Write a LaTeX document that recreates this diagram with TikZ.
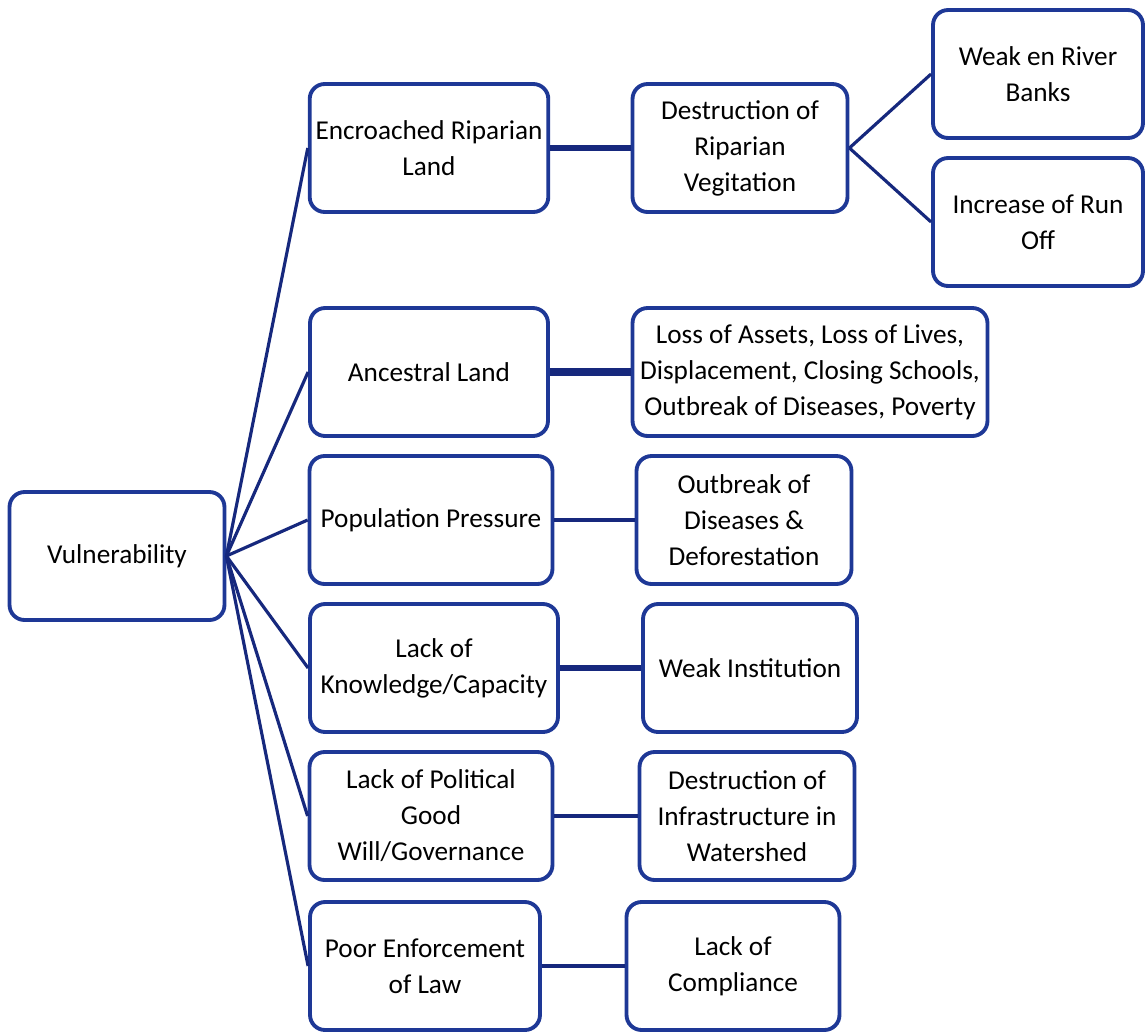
\documentclass[tikz,border=0pt]{standalone}
\usepackage{fontspec}
\setmainfont{Carlito}
\usetikzlibrary{positioning}
\definecolor{boxblue}{RGB}{30,56,150}
\definecolor{lineblue}{RGB}{22,40,125}

\begin{document}
\begin{tikzpicture}[
  x=0.02cm,
  y=-0.02cm,
  box/.style={
    draw=boxblue,
    line width=2.2pt,
    rounded corners=3mm,
    fill=white,
    minimum height=2.56cm,
    align=center,
    font=\fontsize{15.5}{20.5}\selectfont
  },
  link/.style={draw=lineblue, line width=1.8pt},
  heavylink/.style={draw=lineblue, line width=3.6pt}
]
\useasboundingbox (0,0) rectangle (1147,1032);

% Root
\node[box, minimum width=4.3cm] (vuln) at (117,556) {Vulnerability};

% Causes
\node[box, minimum width=4.76cm] (encroach) at (429,148) {Encroached Riparian\\Land};
\node[box, minimum width=4.76cm] (ancestral) at (429,372) {Ancestral Land};
\node[box, minimum width=4.86cm] (population) at (431,520) {Population Pressure};
\node[box, minimum width=4.96cm] (knowledge) at (434,668) {Lack of\\Knowledge/Capacity};
\node[box, minimum width=4.86cm] (political) at (431,816) {Lack of Political\\Good\\Will/Governance};
\node[box, minimum width=4.6cm] (enforce) at (425,966) {Poor Enforcement\\of Law};

% Effects
\node[box, minimum width=4.3cm] (vegetation) at (740,148) {Destruction of\\Riparian\\Vegitation};
\node[box, minimum width=7.1cm] (losses) at (810,372) {Loss of Assets, Loss of Lives,\\Displacement, Closing Schools,\\Outbreak of Diseases, Poverty};
\node[box, minimum width=4.3cm] (diseases) at (744,520) {Outbreak of\\Diseases \&\\Deforestation};
\node[box, minimum width=4.28cm] (institution) at (750,668) {Weak Institution};
\node[box, minimum width=4.3cm] (infra) at (747,816) {Destruction of\\Infrastructure in\\Watershed};
\node[box, minimum width=4.26cm] (compliance) at (733,966) {Lack of\\Compliance};

% Further effects
\node[box, minimum width=4.2cm] (banks) at (1038,74) {Weak en River\\Banks};
\node[box, minimum width=4.2cm] (runoff) at (1038,222) {Increase of Run\\Off};

% Connectors from root
\foreach \n in {encroach, ancestral, population, knowledge, political, enforce}
  \draw[link] (vuln.east) -- (\n.west);

% Horizontal connectors
\draw[heavylink] (encroach) -- (vegetation);
\draw[heavylink, line width=5pt] (ancestral) -- (losses);
\draw[link] (population) -- (diseases);
\draw[heavylink] (knowledge) -- (institution);
\draw[link] (political) -- (infra);
\draw[link] (enforce) -- (compliance);

% Split to the right
\draw[link] (vegetation.east) -- (banks.west);
\draw[link] (vegetation.east) -- (runoff.west);

\end{tikzpicture}
\end{document}
